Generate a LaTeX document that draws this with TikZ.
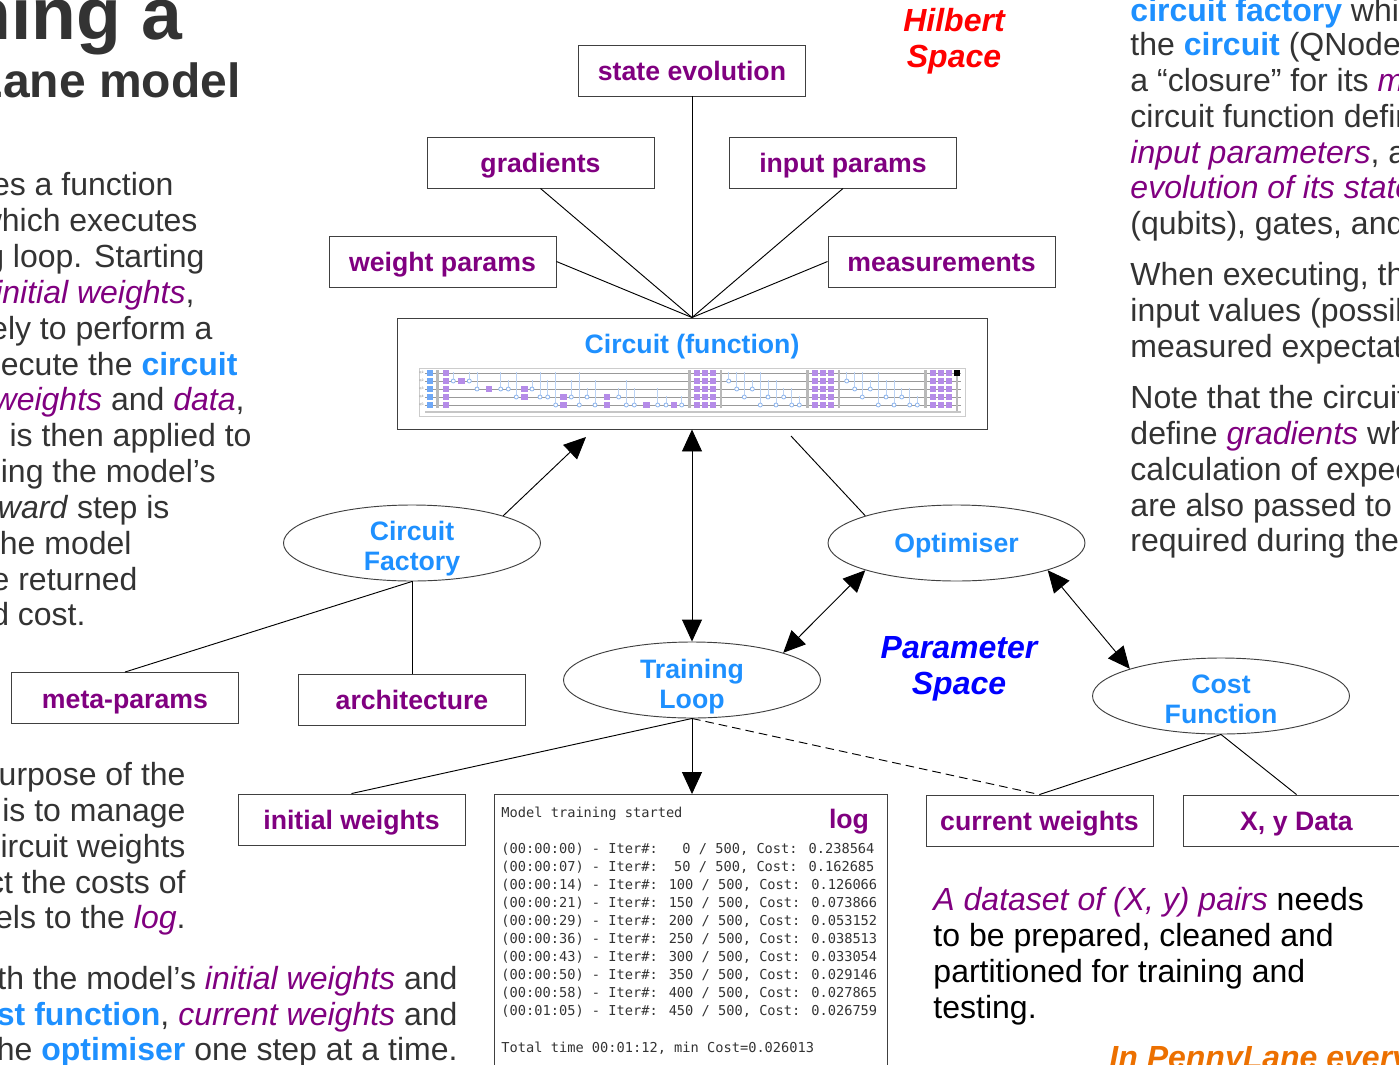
\documentclass[tikz,border=0pt]{standalone}
\usepackage{fontspec}
\setmainfont{Liberation Sans}
\newfontfamily\logfont{DejaVu Sans Mono}
\usetikzlibrary{arrows.meta,shapes.geometric}

\definecolor{termpurple}{HTML}{800080}
\definecolor{conceptblue}{HTML}{1E90FF}
\definecolor{bodygray}{HTML}{333333}
\definecolor{gatepurple}{HTML}{B58CE8}
\definecolor{gateblue}{HTML}{6FA8F7}
\definecolor{cnotblue}{HTML}{8DB5EE}
\definecolor{everyorange}{HTML}{EC7000}

\newcommand{\term}[1]{\textit{\textcolor{termpurple}{#1}}}
\newcommand{\concept}[1]{\textbf{\textcolor{conceptblue}{#1}}}

\tikzset{
    every node/.style={inner sep=0pt},
    databox/.style={draw=black!75, minimum width=170.25pt, minimum height=38.25pt, text=termpurple,
        text height=18.5pt, text depth=3pt, font=\fontsize{20}{22.5}\selectfont\bfseries},
    concept/.style={draw=black!75, ellipse, minimum width=192.75pt, minimum height=57pt},
    conceptname/.style={align=center, text=conceptblue, font=\fontsize{20}{22.5}\selectfont\bfseries},
    space/.style={align=center, font=\fontsize{24}{27}\selectfont\bfseries\itshape},
    bodyleft/.style={anchor=base east, text=bodygray, font=\fontsize{24}{27}\selectfont},
    bodyright/.style={anchor=base west, text=bodygray, font=\fontsize{24}{27}\selectfont},
    logline/.style={anchor=base west, text=bodygray, font=\logfont\fontsize{10.25}{12}\selectfont},
    both/.style={{Triangle[length=16.5pt, width=15pt]}-{Triangle[length=16.5pt, width=15pt]}},
    tohead/.style={-{Triangle[length=16.5pt, width=15pt]}},
    wire/.style={color=gray!80, line width=.6pt},
    barrier/.style={color=gray!55, line width=2pt},
}

\begin{document}
\begin{tikzpicture}[x=.75pt, y=-.75pt, line width=.7pt]
    \clip[use as bounding box] (0,0) rectangle (1399,1064);

    \draw (692,70.5) node[databox] (state) {state evolution};
    \draw (540.5,162.5) node[databox] (gradients) {gradients};
    \draw (843,162.5) node[databox] (inputs) {input params};
    \draw (442.5,261.5) node[databox] (weights) {weight params};
    \draw (941.5,261.5) node[databox] (measure) {measurements};
    \draw (692,373.5) node[draw=black!75, minimum width=442.5pt, minimum height=83.25pt] (circuit) {};
    \draw (692,347) node[conceptname] (circuitname) {Circuit (function)};

    \draw[color=gray!40] (419,368) rectangle (965,416);
    \foreach \w in {1,...,5}
        \draw[wire] (425,{365+8*\w}) -- (961,{365+8*\w});
    \draw[color=gray!45, line width=.6pt] (425,411.5) -- (961,411.5);
    \draw[color=gray!45, line width=.6pt] (425,412.5) -- (961,412.5);
    \foreach \w in {1,...,5} {
        \draw ({422},{365+8*\w}) node[text=gray, font=\fontsize{2.5}{3}\selectfont] (qubit\w) {q\w:};
        \fill[gateblue] (427,{362+8*\w}) rectangle +(6,6);
    }
    \foreach \x in {437.5,689.3,721,807.3,839,925.7}
        \draw[barrier] (\x,370) -- (\x,408);
    \foreach \x/\t/\c in {453.3/2/1,469.3/2/1,477/3/1,500.7/3/1,508.3/3/2,516.3/4/1,532/3/2,540/4/1,547.7/4/2,555.7/5/1,571.3/4/2,579.3/5/1,587/4/3,595/5/2,618.7/4/3,626.3/5/2,634.3/5/3,657.7/5/3,666/5/4,681.7/5/4} {
        \draw[color=cnotblue!60, line width=.5pt] (\x,{364+8*\c}) -- (\x,{365+8*\t});
        \draw[color=cnotblue, fill=white, line width=.6pt] (\x,{365+8*\t}) circle (2);
    }
    \foreach \s in {0,118}
        \foreach \x/\t/\c in {728.7/2/1,736.7/3/1,744.3/4/1,752.3/3/2,760.3/5/1,768/4/2,776/5/2,783.7/4/3,791.7/5/3,799.3/5/4} {
            \draw[color=cnotblue!60, line width=.5pt] ({\x+\s},{364+8*\c}) -- ({\x+\s},{365+8*\t});
            \draw[color=cnotblue, fill=white, line width=.6pt] ({\x+\s},{365+8*\t}) circle (2);
        }
    \foreach \x/\w in {461.3/2,488.7/3,524.3/3,524.3/4,563.3/4,563.3/5,606.7/4,606.7/5,646/5,673.7/5}
        \fill[gatepurple] ({\x-3},{362+8*\w}) rectangle +(6.5,6);
    \foreach \x in {446,697,705,713,815.3,823.3,831,933.3,941.3,949}
        \foreach \w in {1,...,5}
            \fill[gatepurple] ({\x-3},{362+8*\w}) rectangle +(6,6);
    \draw[color=gray!55, line width=1.2pt] (957,373) -- (957,411);
    \fill[black] (954,370) rectangle (960,376);

    \draw (412,543) node[concept] (factory) {};
    \draw (412,549) node[conceptname] (factoryname) {Circuit\\Factory};
    \draw (956.5,543) node[concept] (optimiser) {};
    \draw (956.5,546) node[conceptname] (optimisername) {Optimiser};
    \draw (692,680) node[concept] (training) {};
    \draw (692,687) node[conceptname] (trainingname) {Training\\Loop};
    \draw (1221,696) node[concept] (cost) {};
    \draw (1221,699) node[conceptname] (costname) {Cost\\Function};

    \draw (125,698) node[databox] (metaparams) {meta-params};
    \draw (412,699.5) node[databox] (architecture) {architecture};
    \draw (351.5,819.5) node[databox] (initial) {initial weights};
    \draw (1039.5,820.5) node[databox] (current) {current weights};
    \draw (1296.5,820.5) node[databox] (data) {X, y Data};
    \draw (690.5,999.5) node[draw=black!75, minimum width=294.75pt, minimum height=307.5pt] (logbox) {};
    \draw (849,822) node[font=\fontsize{20}{22.5}\selectfont\bfseries, text=termpurple] (logname) {log};

    \coordinate (factoryend) at (586,437);
    \coordinate (optimiserend) at (791,436);

    \draw (state) -- (circuit.north);
    \draw (gradients.south) -- (circuit.north);
    \draw (inputs.south) -- (circuit.north);
    \draw (weights.east) -- (circuit.north);
    \draw (measure.west) -- (circuit.north);
    \draw[tohead] (factory.north east) -- (factoryend);
    \draw (optimiser.north west) -- (optimiserend);
    \draw[both] (circuit.south) -- (training.north);
    \draw[both] (optimiser.south west) -- (training.north east);
    \draw[both] (optimiser.south east) -- (cost.north west);
    \draw (factory.south) -- (metaparams.north);
    \draw (factory.south) -- (architecture.north);
    \draw (training.south) -- (initial.north);
    \draw[tohead] (training.south) -- (training.south |- logbox.north);
    \draw[dash pattern=on 6.5pt off 3.75pt] (training.south) -- (current.north);
    \draw (cost.south) -- (current.north);
    \draw (cost.south) -- (data.north);

    \draw (954,41) node[space, text=red] (hilbert) {Hilbert\\Space};
    \draw (959,669) node[space, text=blue] (parameter) {Parameter\\Space};

    \draw (183,39) node[anchor=base east, text=bodygray, font=\fontsize{55}{60}\selectfont\bfseries] (title) {ning a};
    \draw (241,97) node[anchor=base east, text=bodygray, font=\fontsize{36}{40}\selectfont\bfseries] (subtitle) {Lane model};

    \foreach \n/\x/\y/\t in {1/174/195/{es a function},2/198/231/{which executes},3/205/267/{g loop. Starting},
        4/195/303/{\term{initial weights},},5/213/339/{ely to perform a},6/238/375/{ecute the \concept{circuit}},
        7/245/410/{\term{weights} and \term{data},},8/252/446/{is then applied to},9/216/482/{ing the model’s},
        10/170/518/{\textit{ward} step is},11/132/554/{the model},12/138/590/{e returned},13/86/625/{d cost.},
        14/186/785/{urpose of the},15/186/821/{is to manage},16/186/857/{ircuit weights},17/186/893/{ct the costs of},
        18/186/928/{els to the \term{log}.},19/458/989/{th the model’s \term{initial weights} and},
        20/458/1025/{\concept{st function}, \term{current weights} and},21/458/1060/{he \concept{optimiser} one step at a time.}}
        \draw (\x,\y) node[bodyleft] (leftline\n) {\t};

    \foreach \n/\y/\t in {1/21/{\concept{circuit factory} whi},2/55/{the \concept{circuit} (QNode},3/91/{a “closure” for its \term{m}},
        4/127/{circuit function defin},5/163/{\term{input parameters}, a},6/198/{\term{evolution of its state}},
        7/234/{(qubits), gates, and},8/285/{When executing, th},9/321/{input values (possib},10/357/{measured expectat},
        11/408/{Note that the circuit},12/444/{define \term{gradients} wh},13/480/{calculation of expec},
        14/516/{are also passed to},15/551/{required during the}}
        \draw (1130,\y) node[bodyright] (rightline\n) {\t};

    \foreach \n/\y/\t in {1/910/{\term{A dataset of (X, y) pairs} needs},2/946/{to be prepared, cleaned and},
        3/982/{partitioned for training and},4/1018/{testing.}}
        \draw (933,\y) node[bodyright, text=black] (dataline\n) {\t};
    \draw (1109,1068) node[anchor=base west, text=everyorange, font=\fontsize{24}{27}\selectfont\bfseries\itshape] (everyline) {In PennyLane every};

    \draw (501,817) node[logline] (logstart) {Model training started};
    \foreach \n/\y/\t in {0/853/{(00:00:00) - Iter\#:\ \ \ 0 / 500, Cost: 0.238564},1/871/{(00:00:07) - Iter\#:\ \ 50 / 500, Cost: 0.162685},
        2/889/{(00:00:14) - Iter\#: 100 / 500, Cost: 0.126066},3/907/{(00:00:21) - Iter\#: 150 / 500, Cost: 0.073866},
        4/925/{(00:00:29) - Iter\#: 200 / 500, Cost: 0.053152},5/943/{(00:00:36) - Iter\#: 250 / 500, Cost: 0.038513},
        6/961/{(00:00:43) - Iter\#: 300 / 500, Cost: 0.033054},7/979/{(00:00:50) - Iter\#: 350 / 500, Cost: 0.029146},
        8/997/{(00:00:58) - Iter\#: 400 / 500, Cost: 0.027865},9/1015/{(00:01:05) - Iter\#: 450 / 500, Cost: 0.026759}}
        \draw (501,\y) node[logline] (logrow\n) {\t};
    \draw (501,1052) node[logline] (logtotal) {Total time 00:01:12, min Cost=0.026013};
\end{tikzpicture}
\end{document}
